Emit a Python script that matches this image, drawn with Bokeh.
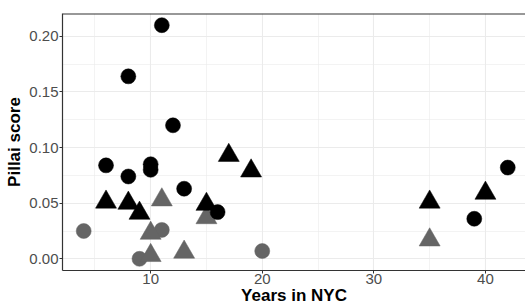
from bokeh.plotting import figure
from bokeh.models import Range1d, SingleIntervalTicker, NumeralTickFormatter, Span
from bokeh.embed import file_html
from bokeh.resources import INLINE

# Black circles
bc_years = [6, 8, 8, 10, 10, 11, 12, 13, 16, 39, 42]
bc_pillai = [0.084, 0.164, 0.074, 0.085, 0.080, 0.210, 0.120, 0.063, 0.042, 0.036, 0.082]
# Black triangles
bt_years = [6, 8, 9, 15, 17, 19, 35, 40]
bt_pillai = [0.051, 0.050, 0.041, 0.049, 0.093, 0.079, 0.051, 0.059]
# Grey circles
gc_years = [4, 9, 11, 20]
gc_pillai = [0.025, 0.000, 0.026, 0.007]
# Grey triangles
gt_years = [10, 10, 11, 13, 15, 35]
gt_pillai = [0.023, 0.003, 0.053, 0.006, 0.037, 0.017]

x_title = "Years in NYC"
y_title = "Pillai score"

FONT = "Liberation Sans"
GREY = "#656565"
Y_END = 0.2205

p = figure(width=525, height=307, output_backend="svg", toolbar_location=None,
           x_range=Range1d(2.1, 43.59), y_range=Range1d(-0.0105, Y_END),
           min_border_left=62, min_border_right=0, min_border_top=13, min_border_bottom=37,
           background_fill_color="white", border_fill_color="white")

p.outline_line_color = None

p.xaxis.ticker = SingleIntervalTicker(interval=10, num_minor_ticks=2)
p.yaxis.ticker = SingleIntervalTicker(interval=0.05, num_minor_ticks=2)
p.yaxis.formatter = NumeralTickFormatter(format="0.00")

for ax in (p.xaxis, p.yaxis):
    ax.axis_line_color = "#333333"
    ax.axis_line_width = 1.2
    ax.major_tick_line_color = "#333333"
    ax.major_tick_out = 3
    ax.major_tick_in = 0
    ax.minor_tick_out = 0
    ax.minor_tick_in = 0
    ax.major_label_text_font = FONT
    ax.major_label_text_font_size = "15px"
    ax.major_label_text_color = "#4D4D4D"
    ax.axis_label_text_font = FONT
    ax.axis_label_text_font_size = "17px"
    ax.axis_label_text_font_style = "bold"
    ax.axis_label_text_color = "black"

p.xaxis.axis_label = x_title
p.yaxis.axis_label = y_title
p.xaxis.major_label_standoff = 0
p.xaxis.axis_label_standoff = -1
p.yaxis.major_label_standoff = 1
p.yaxis.axis_label_standoff = 2

# panel border top
p.add_layout(Span(location=Y_END, dimension="width", line_color="#333333", line_width=2))

for g in (p.xgrid, p.ygrid):
    g.grid_line_color = "#EBEBEB"
    g.grid_line_width = 1.1
    g.minor_grid_line_color = "#EBEBEB"
    g.minor_grid_line_width = 0.6

p.scatter(gc_years, gc_pillai, marker="circle", size=15, fill_color=GREY, line_color=GREY, line_width=0.5)
p.scatter(gt_years, gt_pillai, marker="triangle", size=21, fill_color=GREY, line_color=GREY, line_width=0.5)
p.scatter(bc_years, bc_pillai, marker="circle", size=15, fill_color="black", line_color="black", line_width=0.5)
p.scatter(bt_years, bt_pillai, marker="triangle", size=21, fill_color="black", line_color="black", line_width=0.5)

open("out.html", "w").write(file_html(p, INLINE))
